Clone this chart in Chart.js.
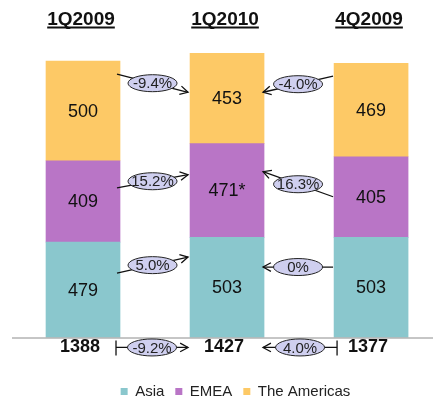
<!DOCTYPE html>
<html>
<head>
<meta charset="utf-8">
<script src="https://cdn.jsdelivr.net/npm/chart.js@4.4.0/dist/chart.umd.min.js"></script>
<style>
  html, body { margin: 0; padding: 0; background: #fff; overflow: hidden; }
  #wrap { width: 433px; height: 409px; }
</style>
</head>
<body>
<div id="wrap"><canvas id="myChart"></canvas></div>
<script>
var quarters = ['1Q2009', '1Q2010', '4Q2009'];
var asia = [479, 503, 503];
var emea = [409, 471, 405];
var americas = [500, 453, 469];
var emeaLabels = ['409', '471*', '405'];
var totals = [1388, 1427, 1377];

// change bubbles: from bar -> to bar, anchored at value levels
var changes = [
    { label: '-9.4%', from: 0, to: 1, fromY: 1323, toY: 1232 },
    { label: '-4.0%', from: 2, to: 1, fromY: 1313, toY: 1232 },
    { label: '15.2%', from: 0, to: 1, fromY: 752, toY: 818 },
    { label: '16.3%', from: 2, to: 1, fromY: 707, toY: 833 },
    { label: '5.0%', from: 0, to: 1, fromY: 323, toY: 404 },
    { label: '0%', from: 2, to: 1, fromY: 354, toY: 354 },
    { label: '-9.2%', from: 0, to: 1, fromY: -50, toY: -50, tick: true },
    { label: '4.0%', from: 2, to: 1, fromY: -50, toY: -50, tick: true }
];

var FONT = 'Liberation Sans, Arial, sans-serif';

function pts(arr) {
    return arr.map(function (v, i) { return { x: i, y: v }; });
}

function arrowHead(ctx, x1, y1, x2, y2) {
    var a = Math.atan2(y2 - y1, x2 - x1);
    var s = 9;
    ctx.beginPath();
    ctx.moveTo(x2 - s * Math.cos(a - 0.5), y2 - s * Math.sin(a - 0.5));
    ctx.lineTo(x2, y2);
    ctx.lineTo(x2 - s * Math.cos(a + 0.5), y2 - s * Math.sin(a + 0.5));
    ctx.stroke();
}

var extras = {
    id: 'extras',
    afterDatasetsDraw: function (chart) {
        var ctx = chart.ctx;
        var y = chart.scales.y;
        var bars = chart.getDatasetMeta(0).data;
        var area = chart.chartArea;
        ctx.save();

        // axis line
        ctx.strokeStyle = '#8c8c8c';
        ctx.lineWidth = 1;
        ctx.beginPath();
        ctx.moveTo(12, area.bottom + 0.5);
        ctx.lineTo(433, area.bottom + 0.5);
        ctx.stroke();

        // segment values
        ctx.fillStyle = '#111';
        ctx.font = '18px ' + FONT;
        ctx.textAlign = 'center';
        ctx.textBaseline = 'middle';
        chart.data.datasets.forEach(function (ds, di) {
            chart.getDatasetMeta(di).data.forEach(function (b, i) {
                var txt = di === 1 ? emeaLabels[i] : String(ds.data[i].y);
                ctx.fillText(txt, b.x, (b.y + b.base) / 2 + 1);
            });
        });

        // quarter headers (bold, underlined)
        ctx.font = 'bold 19px ' + FONT;
        ctx.textBaseline = 'alphabetic';
        quarters.forEach(function (q, i) {
            var x = bars[i].x - 2;
            ctx.fillText(q, x, 25);
            var w = ctx.measureText(q).width;
            ctx.fillRect(x - w / 2, 26.5, w, 2);
        });

        // totals
        ctx.font = 'bold 18px ' + FONT;
        totals.forEach(function (t, i) {
            ctx.fillText(String(t), bars[i].x - 3, 352);
        });

        // change bubbles + arrows
        changes.forEach(function (c) {
            var fb = bars[c.from], tb = bars[c.to];
            var x1, x2;
            if (c.to > c.from) {
                x1 = fb.x + fb.width / 2 - (c.tick ? 4 : 3);
                x2 = tb.x - tb.width / 2 - 2;
            } else {
                x1 = fb.x - fb.width / 2 + (c.tick ? 3 : -1);
                x2 = tb.x + tb.width / 2 - 1;
            }
            var y1 = y.getPixelForValue(c.fromY), y2 = y.getPixelForValue(c.toY);
            ctx.strokeStyle = '#111';
            ctx.lineWidth = 1.3;
            ctx.beginPath();
            ctx.moveTo(x1, y1);
            ctx.lineTo(x2, y2);
            ctx.stroke();
            arrowHead(ctx, x1, y1, x2, y2);
            if (c.tick) {
                ctx.beginPath();
                ctx.moveTo(x1, y1 - 7);
                ctx.lineTo(x1, y1 + 8);
                ctx.stroke();
            }
            var cx = (x1 + x2) / 2, cy = (y1 + y2) / 2;
            ctx.beginPath();
            ctx.ellipse(cx, cy, 24.5, 8.5, 0, 0, Math.PI * 2);
            ctx.fillStyle = '#cfcfef';
            ctx.fill();
            ctx.lineWidth = 1;
            ctx.strokeStyle = '#222';
            ctx.stroke();
            ctx.fillStyle = '#222';
            ctx.font = '15px ' + FONT;
            ctx.textBaseline = 'middle';
            ctx.fillText(c.label, cx, cy + 1);
        });
        ctx.restore();
    }
};

var ctx = document.getElementById('myChart');
var myChart = new Chart(ctx, {
    type: 'bar',
    data: {
        datasets: [
            { label: 'Asia', data: pts(asia), backgroundColor: '#8ac7cd' },
            { label: 'EMEA', data: pts(emea), backgroundColor: '#b975c6' },
            { label: 'The Americas', data: pts(americas), backgroundColor: '#fdc966' }
        ]
    },
    options: {
        responsive: true,
        maintainAspectRatio: false,
        animation: false,
        layout: { padding: { top: 19, left: 38, right: 0, bottom: 0 } },
        datasets: { bar: { barThickness: 74 } },
        scales: {
            x: {
                type: 'linear', stacked: true, min: -0.3125, max: 2.43,
                offset: false, display: false
            },
            y: {
                stacked: true, min: 0, max: 1600,
                display: false
            }
        },
        plugins: {
            legend: {
                position: 'bottom',
                title: { display: true, text: ' ', font: { size: 10 }, padding: 11.75 },
                labels: {
                    boxWidth: 7, boxHeight: 7, padding: 11,
                    color: '#222',
                    font: { family: FONT, size: 15 }
                }
            },
            tooltip: { enabled: false }
        }
    },
    plugins: [extras]
});
</script>
</body>
</html>
